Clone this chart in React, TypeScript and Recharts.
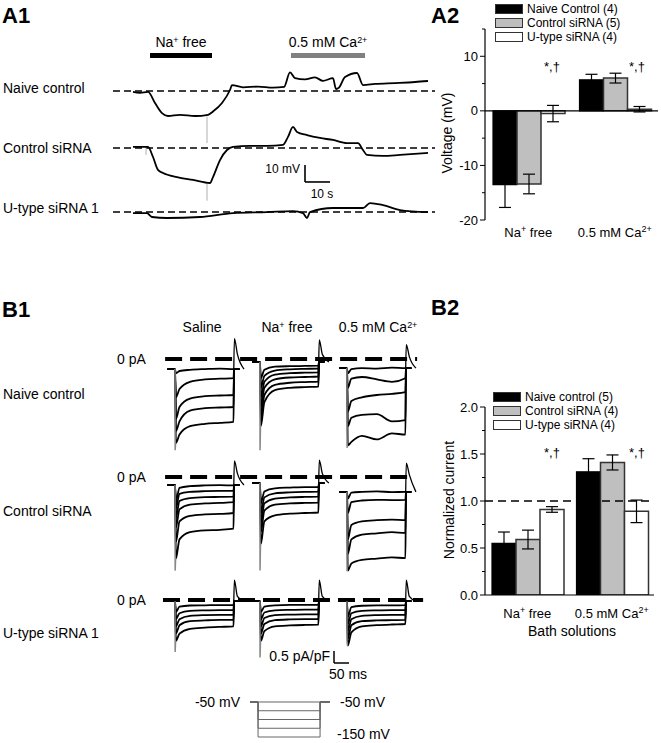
import React from 'react';
import { LineChart, Line, XAxis, YAxis, ReferenceLine, ReferenceArea, BarChart, Bar, ErrorBar } from 'recharts';

const FONT = 'Arial, "Liberation Sans", Helvetica, sans-serif';

// ---------- A1: membrane potential traces, [t (s), mV from baseline] ----------
const naiveTrace: [number, number][] = [
  [0, -0.5], [2.8, -1], [6, -0.5], [8.8, -7], [11.6, -13], [14, -14.7], [18.8, -14], [24.8, -14.7],
  [30, -14], [32, -12], [35.6, -7], [38.8, 0.6], [39.6, 3.5], [44, 2.2], [50, 2.6], [56, 2], [60.4, 2.4],
  [62.8, 11], [64.8, 7.6], [68.8, 6.8], [72.8, 8], [76, 6], [80, 7.6], [81.2, 1.2], [82.4, 2], [84.8, 8.2],
  [89.6, 10.6], [92, 3.5], [96.8, 4.2], [104.8, 4.7], [112.8, 5.3], [118, 5.9],
];
const controlTrace: [number, number][] = [
  [0, 0.6], [6, 0.6], [8, -5.3], [10, -12.9], [12, -14.7], [17.6, -17.1], [24, -18.8], [30.8, -20.6],
  [32, -17.1], [34.8, -7.1], [37.6, -1.2], [40, 0.6], [46.8, 1.2], [53.6, 1.2], [60, 1.8], [62, 6.5],
  [64, 12.4], [65.6, 9.4], [69.6, 7.6], [74.8, 5.9], [80, 4.7], [85.6, 2.9], [90, 2.9], [92, -1.2],
  [93.6, -4.1], [100, -4.7], [106.8, -4.1], [118, -2.9],
];
const utypeTrace: [number, number][] = [
  [0, -0.6], [5.6, -0.6], [7.6, -2.9], [13.6, -3.5], [26.8, -2.9], [40, -0.6], [53.6, 0], [64, 0.6],
  [68, -0.6], [69.6, -3.5], [70.8, 0], [80, 2.4], [92, 2.4], [94.8, 5.3], [100, 4.1], [106.8, 1.2], [118, 0],
];
// perfusion artefacts: [t, from mV, to mV]
const naiveSpikes: [number, number, number][] = [[29.6, -15, -30.6]];
const controlSpikes: [number, number, number][] = [[29.6, -20.6, -31], [5.2, 0.6, -4]];
const naFreeWindow = [6.8, 31.6]; // s
const caWindow = [63.2, 92.8]; // s

// ---------- A2 ----------
const BATH = ['Na+ free', '0.5 mM Ca2+'];
const a2Naive = [-13.5, 5.7];
const a2NaiveErr = [4.2, 1.0];
const a2Control = [-13.4, 6.0];
const a2ControlErr = [1.8, 0.9];
const a2Utype = [-0.5, 0.3];
const a2UtypeErr = [1.5, 0.5];
const a2Legend = ['Naive Control (4)', 'Control siRNA (5)', 'U-type siRNA (4)'];

// ---------- B2 ----------
const b2Naive = [0.55, 1.31];
const b2NaiveErr = [0.12, 0.14];
const b2Control = [0.59, 1.41];
const b2ControlErr = [0.1, 0.08];
const b2Utype = [0.91, 0.89];
const b2UtypeErr = [0.03, 0.12];
const b2Legend = ['Naive control (5)', 'Control siRNA (4)', 'U-type siRNA (4)'];

// ---------- B1: current families (pA/pF) read at these ms after step onset ----------
const B1_T = [3, 15, 50, 100, 150, 195];
const B1_COLS = ['Saline', 'Na+ free', '0.5 mM Ca2+'];
const B1_ROWS = ['Naive control', 'Control siRNA', 'U-type siRNA 1'];

const naiveHold = [-0.42, -0.12, -0.38];
const naiveSaline = [
  [-0.6, -0.5, -0.45, -0.42, -0.4, -0.42],
  [-1.6, -1.25, -0.95, -0.85, -0.82, -0.8],
  [-2.5, -2.0, -1.65, -1.55, -1.52, -1.5],
  [-3.0, -2.6, -2.15, -2.05, -2.02, -2.0],
  [-3.5, -3.15, -2.8, -2.7, -2.66, -2.62],
];
const naiveNaFree = [
  [-0.8, -0.45, -0.32, -0.3, -0.29, -0.28],
  [-1.2, -0.7, -0.48, -0.43, -0.41, -0.4],
  [-1.6, -0.95, -0.65, -0.59, -0.57, -0.56],
  [-2.0, -1.2, -0.85, -0.77, -0.75, -0.73],
  [-2.4, -1.5, -1.08, -0.99, -0.96, -0.94],
  [-2.8, -1.8, -1.3, -1.2, -1.17, -1.15],
];
const naiveCa = [
  [-0.6, -0.42, -0.38, -0.4, -0.36, -0.38],
  [-1.2, -0.82, -0.75, -0.85, -0.95, -0.8],
  [-2.2, -1.75, -1.6, -1.5, -1.45, -1.38],
  [-2.8, -2.45, -2.33, -2.3, -2.6, -2.55],
  [-3.6, -3.45, -3.2, -3.35, -3.1, -3.15],
];
const naiveCap = [-3.8, -3.8, -3.7];
const naiveTail = [[0.85, 0.2], [0.8, 0.2], [0.6, 0.1]];

const controlHold = [-0.33, -0.25, -0.62];
const controlSaline = [
  [-1.0, -0.45, -0.38, -0.35, -0.34, -0.35],
  [-1.3, -0.7, -0.62, -0.59, -0.58, -0.58],
  [-1.7, -1.0, -0.88, -0.84, -0.83, -0.82],
  [-2.1, -1.35, -1.15, -1.1, -1.08, -1.05],
  [-2.7, -1.85, -1.62, -1.56, -1.54, -1.5],
  [-3.4, -2.6, -2.3, -2.22, -2.2, -2.15],
];
const controlNaFree = [
  [-1.1, -0.6, -0.47, -0.44, -0.42, -0.42],
  [-1.5, -0.85, -0.68, -0.64, -0.62, -0.61],
  [-1.9, -1.1, -0.9, -0.85, -0.83, -0.82],
  [-2.3, -1.4, -1.15, -1.1, -1.08, -1.07],
  [-2.8, -1.85, -1.6, -1.53, -1.5, -1.48],
];
const controlCa = [
  [-0.9, -0.65, -0.62, -0.6, -0.63, -0.62],
  [-1.5, -1.05, -0.98, -0.95, -0.96, -0.95],
  [-2.6, -2.0, -1.85, -1.8, -1.78, -1.8],
  [-3.2, -2.6, -2.4, -2.35, -2.3, -2.33],
  [-3.9, -3.6, -3.45, -3.4, -3.35, -3.38],
];
const controlCap = [-3.9, -3.9, -3.9];
const controlTail = [[0.67, 0.15], [0.7, 0.15], [0.58, 0.1]];

const utypeHold = [-0.05, -0.05, -0.05];
const utypeSaline = [
  [-0.5, -0.28, -0.23, -0.22, -0.21, -0.21],
  [-0.8, -0.55, -0.45, -0.43, -0.42, -0.42],
  [-1.1, -0.8, -0.66, -0.63, -0.62, -0.62],
  [-1.4, -1.05, -0.88, -0.85, -0.83, -0.83],
  [-1.7, -1.4, -1.2, -1.15, -1.12, -1.1],
];
const utypeNaFree = [
  [-0.5, -0.28, -0.22, -0.2, -0.2, -0.2],
  [-0.8, -0.52, -0.43, -0.41, -0.4, -0.4],
  [-1.1, -0.75, -0.63, -0.61, -0.6, -0.6],
  [-1.4, -1.0, -0.84, -0.81, -0.8, -0.8],
  [-1.7, -1.3, -1.1, -1.06, -1.04, -1.03],
];
const utypeCa = [
  [-0.7, -0.3, -0.24, -0.22, -0.22, -0.21],
  [-1.0, -0.55, -0.45, -0.43, -0.42, -0.42],
  [-1.3, -0.8, -0.66, -0.63, -0.62, -0.62],
  [-1.6, -1.05, -0.88, -0.85, -0.84, -0.83],
  [-1.9, -1.35, -1.1, -1.05, -1.02, -1.0],
];
const utypeCap = [-2.17, -2.4, -1.75];
const utypeTail = [[0.83, 0.15], [0.83, 0.15], [0.83, 0.15]];

// voltage protocol
const protocolSteps = [-50, -75, -100, -125, -150];
const HOLD_MV = -50;
const STEP_MS = 200;

// ---------- layout ----------
const A1 = { left: 110, top: 30, width: 330, height: 200, pxPerS: 2.5, pxPerMv: 1.7, t0: 9.2 };
const A1_BASE = [-35.9, -69.4, -107.1];
const B1 = { left: 160, width: 270, pxPerMs: 0.3, pxPerUnit: 24 };
const B1_ONSET = [50, 333, 623];
const B1_LAYOUT = [
  { top: 330, height: 130, zero: 359, span: [17, 857] },
  { top: 450, height: 130, zero: 477, span: [17, 850] },
  { top: 570, height: 100, zero: 600, span: [10, 877] },
];
const FILLS = ['#000000', '#bfbfbf', '#ffffff'];

const splitSup = (s: string) => /^(.*?)(2\+|\+)(.*)$/.exec(s);

const Sup = ({ children }: { children: React.ReactNode }) => (
  <span style={{ fontSize: '0.64em', verticalAlign: '0.5em', lineHeight: 0 }}>{children}</span>
);

const Rich = ({ s }: { s: string }) => {
  const m = splitSup(s);
  if (!m) return <>{s}</>;
  return <>{m[1]}<Sup>{m[2]}</Sup>{m[3]}</>;
};

const Txt = ({ x, y, size = 14, anchor = 'left', bold = false, rotate = false, children }: any) => {
  const tx = anchor === 'center' ? '-50%' : anchor === 'right' ? '-100%' : '0';
  return (
    <div
      style={{
        position: 'absolute', left: x, top: y, fontSize: size, fontWeight: bold ? 700 : 400,
        whiteSpace: 'nowrap', lineHeight: 1, color: '#000',
        transform: `translate(${rotate ? '-50%' : tx}, -50%)${rotate ? ' rotate(-90deg)' : ''}`,
      }}
    >
      {children}
    </div>
  );
};

const CatTick = ({ x, y, payload, dy }: any) => {
  const m = splitSup(payload.value);
  return (
    <text x={x} y={y} dy={dy} textAnchor="middle" fontSize={13} fontFamily={FONT} fill="#000">
      {m ? (
        <>
          {m[1]}
          <tspan dy={-5} fontSize={9}>{m[2]}</tspan>
          <tspan dy={5}>{m[3] || ''}</tspan>
        </>
      ) : payload.value}
    </text>
  );
};

const makeYTick = (major: number, fmt: (v: number) => string) => (props: any) => {
  const { x, y, payload } = props;
  const v = payload.value;
  const isMajor = Math.abs(v / major - Math.round(v / major)) < 1e-6;
  return (
    <g>
      <line x1={x} x2={x - (isMajor ? 5 : 3)} y1={y} y2={y} stroke="#000" strokeWidth={1} />
      {isMajor && (
        <text x={x - 7} y={y} dy={4.5} textAnchor="end" fontSize={13} fontFamily={FONT} fill="#000">
          {fmt(v)}
        </text>
      )}
    </g>
  );
};

const LegendBox = ({ x, y, labels }: { x: number; y: number; labels: string[] }) => (
  <div style={{ position: 'absolute', left: x, top: y, fontSize: 12 }}>
    {labels.map((l, i) => (
      <div key={l} style={{ display: 'flex', alignItems: 'center', height: 14 }}>
        <span
          style={{
            display: 'inline-block', width: 28, height: 10, background: FILLS[i],
            border: '1.5px solid #333', boxSizing: 'border-box', marginRight: 4,
          }}
        />
        {l}
      </div>
    ))}
  </div>
);

function A1Chart() {
  const yDomain = [-A1.height / A1.pxPerMv, 0];
  const xDomain = [0, A1.width / A1.pxPerS];
  const traces = [naiveTrace, controlTrace, utypeTrace];
  const spikes = [naiveSpikes, controlSpikes, []];
  const barX = 78;
  const barY = -89.4;
  return (
    <div style={{ position: 'absolute', left: A1.left, top: A1.top }}>
      <LineChart width={A1.width} height={A1.height} margin={{ top: 0, right: 0, bottom: 0, left: 0 }}>
        <XAxis type="number" dataKey="x" domain={xDomain} hide allowDataOverflow />
        <YAxis type="number" dataKey="y" domain={yDomain} hide allowDataOverflow />
        <ReferenceArea x1={A1.t0 + naFreeWindow[0]} x2={A1.t0 + naFreeWindow[1]} y1={-16.5} y2={-13.5} fill="#000" fillOpacity={1} stroke="none" />
        <ReferenceArea x1={A1.t0 + caWindow[0]} x2={A1.t0 + caWindow[1]} y1={-16.5} y2={-13.5} fill="#808080" fillOpacity={1} stroke="none" />
        {A1_BASE.map((b, i) => (
          <ReferenceLine key={`base${i}`} segment={[{ x: 1.2, y: b }, { x: 130, y: b }]} stroke="#000" strokeWidth={1.4} strokeDasharray="7 4" />
        ))}
        {spikes.map((list, i) =>
          list.map((s, j) => (
            <ReferenceLine key={`sp${i}-${j}`} segment={[{ x: A1.t0 + s[0], y: A1_BASE[i] + s[1] }, { x: A1.t0 + s[0], y: A1_BASE[i] + s[2] }]} stroke="#b0b0b0" strokeWidth={1} />
          ))
        )}
        <ReferenceLine segment={[{ x: barX, y: barY }, { x: barX, y: barY + 10 }]} stroke="#000" strokeWidth={1.6} />
        <ReferenceLine segment={[{ x: barX, y: barY }, { x: barX + 10, y: barY }]} stroke="#000" strokeWidth={1.6} />
        {traces.map((tr, i) => (
          <Line
            key={`tr${i}`}
            data={tr.map(([t, v]) => ({ x: A1.t0 + t, y: A1_BASE[i] + v }))}
            dataKey="y"
            type="monotone"
            stroke="#000"
            strokeWidth={1.8}
            dot={false}
            isAnimationActive={false}
          />
        ))}
      </LineChart>
    </div>
  );
}

function B1Row({ row, hold, families, cap, tail }: any) {
  const L = B1_LAYOUT[row];
  const yMax = (L.zero - L.top) / B1.pxPerUnit;
  const yMin = -(L.top + L.height - L.zero) / B1.pxPerUnit;
  const lines: React.ReactNode[] = [];
  families.forEach((fam: number[][], c: number) => {
    const x0 = B1_ONSET[c];
    const h = hold[c];
    fam.forEach((vals, s) => {
      const pts = [
        { x: x0 - 25, y: h },
        { x: x0, y: h },
        ...B1_T.map((t, i) => ({ x: x0 + t, y: vals[i] })),
        { x: x0 + STEP_MS - 3, y: h },
        { x: x0 + STEP_MS + 15, y: h },
      ];
      lines.push(
        <Line key={`s${c}-${s}`} data={pts} dataKey="y" type="monotone" stroke="#000" strokeWidth={1.8} dot={false} isAnimationActive={false} />
      );
    });
    lines.push(
      <Line
        key={`cap${c}`}
        data={[{ x: x0, y: h }, { x: x0 + 0.5, y: cap[c] }, { x: x0 + 2, y: fam[fam.length - 1][0] }]}
        dataKey="y" type="linear" stroke="#888" strokeWidth={1.5} dot={false} isAnimationActive={false}
      />
    );
    lines.push(
      <Line
        key={`tail${c}`}
        data={[
          { x: x0 + STEP_MS - 4, y: h },
          { x: x0 + STEP_MS - 2, y: tail[c][0] },
          { x: x0 + STEP_MS + 8, y: tail[c][1] },
          { x: x0 + STEP_MS + 30, y: h },
        ]}
        dataKey="y" type="monotone" stroke="#000" strokeWidth={1.3} dot={false} isAnimationActive={false}
      />
    );
  });
  return (
    <div style={{ position: 'absolute', left: B1.left, top: L.top }}>
      <LineChart width={B1.width} height={L.height} margin={{ top: 0, right: 0, bottom: 0, left: 0 }}>
        <XAxis type="number" dataKey="x" domain={[0, B1.width / B1.pxPerMs]} hide allowDataOverflow />
        <YAxis type="number" dataKey="y" domain={[yMin, yMax]} hide allowDataOverflow />
        <ReferenceLine segment={[{ x: L.span[0], y: 0 }, { x: L.span[1], y: 0 }]} stroke="#000" strokeWidth={4} strokeDasharray="17 8" />
        {lines}
        {row === 2 && (
          <ReferenceLine segment={[{ x: 580, y: -2.625 }, { x: 580, y: -2.125 }]} stroke="#000" strokeWidth={1.5} />
        )}
        {row === 2 && (
          <ReferenceLine segment={[{ x: 580, y: -2.625 }, { x: 630, y: -2.625 }]} stroke="#000" strokeWidth={1.5} />
        )}
      </LineChart>
    </div>
  );
}

function ProtocolChart() {
  return (
    <div style={{ position: 'absolute', left: 250, top: 698 }}>
      <LineChart width={80} height={43} margin={{ top: 0, right: 0, bottom: 0, left: 0 }}>
        <XAxis type="number" dataKey="x" domain={[-26, 232]} hide allowDataOverflow />
        <YAxis type="number" dataKey="y" domain={[-161.4, -38.6]} hide allowDataOverflow />
        {protocolSteps.map((v) => (
          <Line
            key={v}
            data={[
              { x: -26, y: HOLD_MV }, { x: 0, y: HOLD_MV }, { x: 0, y: v },
              { x: STEP_MS, y: v }, { x: STEP_MS, y: HOLD_MV }, { x: 232, y: HOLD_MV },
            ]}
            dataKey="y" type="linear" stroke="#666" strokeWidth={1} dot={false} isAnimationActive={false}
          />
        ))}
      </LineChart>
    </div>
  );
}

function GroupBars({ data, yDomain, ticks, major, fmt, width, height, top, axisHeight, tickDy, showAxis, refLines, gap }: any) {
  return (
    <BarChart width={width} height={height} data={data} margin={{ top, right: 3, bottom: 0, left: 0 }} barCategoryGap={gap} barGap={0}>
      <XAxis
        dataKey="cat" axisLine={showAxis ? { stroke: '#000', strokeWidth: 1.2 } : false}
        tickLine={false} tickSize={0} tickMargin={0} interval={0}
        tick={<CatTick dy={tickDy} />} height={axisHeight}
      />
      <YAxis
        type="number" domain={yDomain} ticks={ticks} interval={0} width={40} allowDataOverflow
        axisLine={{ stroke: '#000', strokeWidth: 1.2 }} tickLine={false} tickSize={0} tickMargin={0}
        tick={makeYTick(major, fmt)}
      />
      {refLines}
      <Bar dataKey="naive" fill={FILLS[0]} stroke="#000" strokeWidth={1.2} isAnimationActive={false}>
        <ErrorBar dataKey="naiveErr" width={6} stroke="#000" strokeWidth={1.2} />
      </Bar>
      <Bar dataKey="control" fill={FILLS[1]} stroke="#333" strokeWidth={1.5} isAnimationActive={false}>
        <ErrorBar dataKey="controlErr" width={6} stroke="#000" strokeWidth={1.2} />
      </Bar>
      <Bar dataKey="utype" fill={FILLS[2]} stroke="#333" strokeWidth={1.5} isAnimationActive={false}>
        <ErrorBar dataKey="utypeErr" width={6} stroke="#000" strokeWidth={1.2} />
      </Bar>
    </BarChart>
  );
}

const a2Data = BATH.map((cat, i) => ({
  cat, naive: a2Naive[i], naiveErr: a2NaiveErr[i], control: a2Control[i], controlErr: a2ControlErr[i],
  utype: a2Utype[i], utypeErr: a2UtypeErr[i],
}));
const b2Data = BATH.map((cat, i) => ({
  cat, naive: b2Naive[i], naiveErr: b2NaiveErr[i], control: b2Control[i], controlErr: b2ControlErr[i],
  utype: b2Utype[i], utypeErr: b2UtypeErr[i],
}));

export default function App() {
  const b1Families = [
    { hold: naiveHold, families: [naiveSaline, naiveNaFree, naiveCa], cap: naiveCap, tail: naiveTail },
    { hold: controlHold, families: [controlSaline, controlNaFree, controlCa], cap: controlCap, tail: controlTail },
    { hold: utypeHold, families: [utypeSaline, utypeNaFree, utypeCa], cap: utypeCap, tail: utypeTail },
  ];
  return (
    <div
      style={{
        position: 'absolute', left: 0, top: 0, width: 661, height: 743, background: '#fff',
        fontFamily: FONT, color: '#000', overflow: 'hidden',
      }}
    >
      {/* panel labels */}
      <Txt x={2} y={16} size={22} bold>A1</Txt>
      <Txt x={431} y={16} size={22} bold>A2</Txt>
      <Txt x={2} y={310} size={22} bold>B1</Txt>
      <Txt x={431} y={308} size={22} bold>B2</Txt>

      {/* A1 */}
      <A1Chart />
      <Txt x={181} y={42} anchor="center"><Rich s="Na+ free" /></Txt>
      <Txt x={328} y={42} anchor="center"><Rich s="0.5 mM Ca2+" /></Txt>
      <Txt x={3} y={88}>{B1_ROWS[0]}</Txt>
      <Txt x={3} y={148}>{B1_ROWS[1]}</Txt>
      <Txt x={3} y={208}>{B1_ROWS[2]}</Txt>
      <Txt x={300} y={169} size={12} anchor="right">10 mV</Txt>
      <Txt x={322} y={194} size={12} anchor="center">10 s</Txt>

      {/* A2 */}
      <div style={{ position: 'absolute', left: 445, top: 0 }}>
        <GroupBars
          data={a2Data} yDomain={[-20, 15]} ticks={[-20, -15, -10, -5, 0, 5, 10, 15]} major={10}
          fmt={(v: number) => String(v)} width={216} height={240} top={29} axisHeight={20}
          tickDy={16.5} showAxis={false} gap={8}
          refLines={<ReferenceLine y={0} stroke="#000" strokeWidth={1.4} />}
        />
      </div>
      <LegendBox x={495} y={2} labels={a2Legend} />
      <Txt x={447} y={133} rotate>Voltage (mV)</Txt>
      <Txt x={552} y={66} size={13} anchor="center">*,†</Txt>
      <Txt x={637} y={66} size={13} anchor="center">*,†</Txt>

      {/* B1 */}
      {B1_COLS.map((c, i) => (
        <Txt key={c} x={[202, 287, 378][i]} y={327} anchor="center"><Rich s={c} /></Txt>
      ))}
      {b1Families.map((f, r) => (
        <B1Row key={r} row={r} hold={f.hold} families={f.families} cap={f.cap} tail={f.tail} />
      ))}
      <Txt x={117} y={359}>0 pA</Txt>
      <Txt x={117} y={477}>0 pA</Txt>
      <Txt x={117} y={600}>0 pA</Txt>
      <Txt x={3} y={394}>{B1_ROWS[0]}</Txt>
      <Txt x={3} y={511}>{B1_ROWS[1]}</Txt>
      <Txt x={3} y={633}>{B1_ROWS[2]}</Txt>
      <Txt x={330} y={656} anchor="right">0.5 pA/pF</Txt>
      <Txt x={348} y={674} anchor="center">50 ms</Txt>
      <ProtocolChart />
      <Txt x={240} y={702} anchor="right">-50 mV</Txt>
      <Txt x={340} y={702}>-50 mV</Txt>
      <Txt x={337} y={734}>-150 mV</Txt>

      {/* B2 */}
      <div style={{ position: 'absolute', left: 445, top: 380 }}>
        <GroupBars
          data={b2Data} yDomain={[0, 2]} ticks={[0, 0.25, 0.5, 0.75, 1, 1.25, 1.5, 1.75, 2]} major={0.5}
          fmt={(v: number) => v.toFixed(1)} width={212} height={260} top={27} axisHeight={45}
          tickDy={22.5} showAxis gap={7}
          refLines={<ReferenceLine y={1} stroke="#000" strokeWidth={1.6} strokeDasharray="8 5" />}
        />
      </div>
      <LegendBox x={493} y={390} labels={b2Legend} />
      <Txt x={449} y={500} rotate>Normalized current</Txt>
      <Txt x={552} y={452} size={13} anchor="center">*,†</Txt>
      <Txt x={637} y={452} size={13} anchor="center">*,†</Txt>
      <Txt x={572} y={631} anchor="center">Bath solutions</Txt>
    </div>
  );
}
